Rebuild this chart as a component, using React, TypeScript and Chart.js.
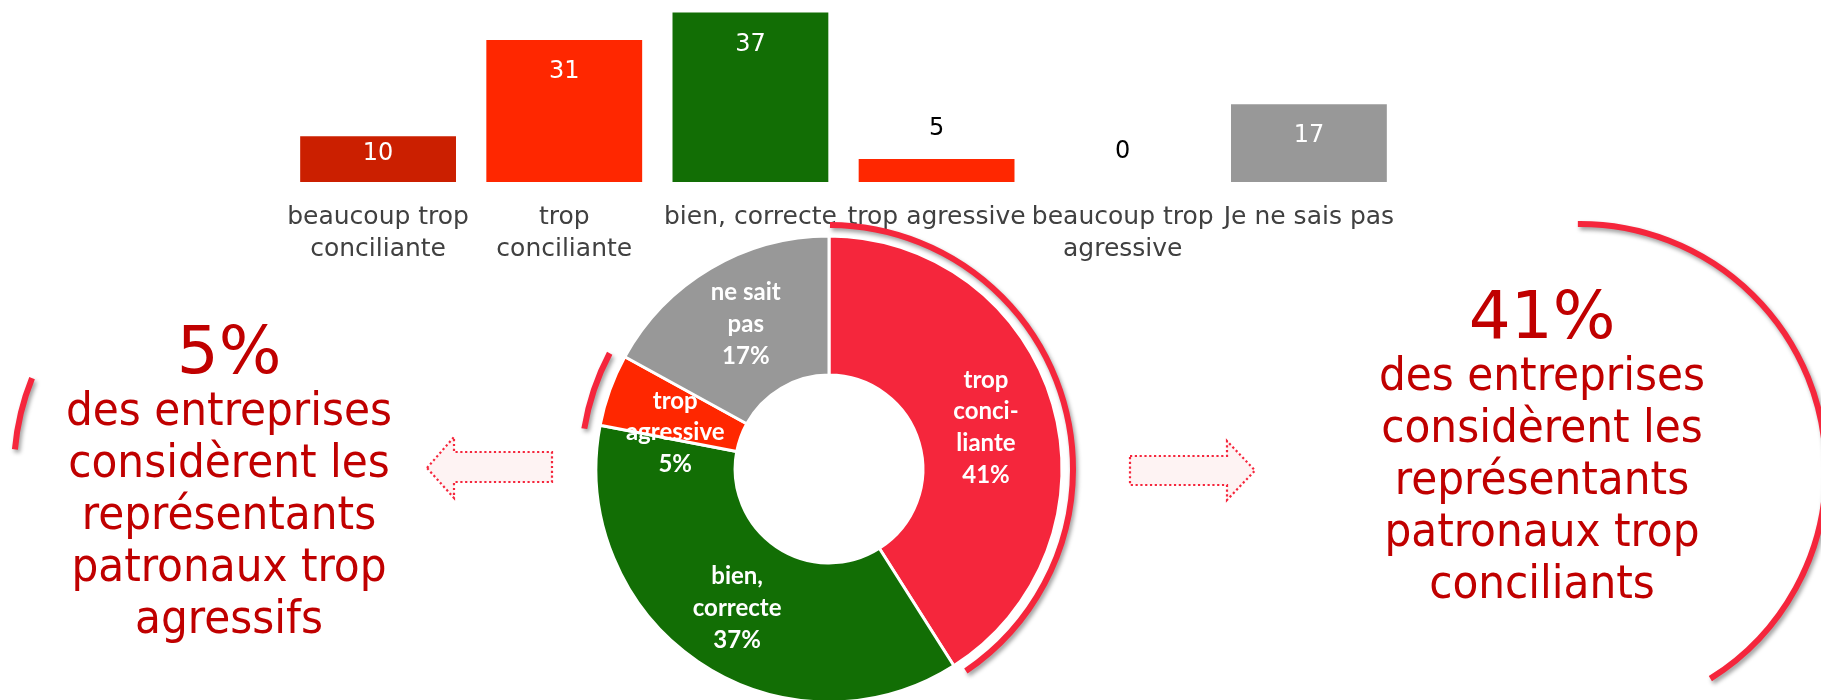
import React, { useEffect, useRef } from "react";
import { Chart, registerables } from "chart.js";

Chart.register(...registerables);

// ---------- data ----------
const barCategories: (string | string[])[] = [
  ["beaucoup trop", "conciliante"],
  ["trop", "conciliante"],
  "bien, correcte",
  "trop agressive",
  ["beaucoup trop", "agressive"],
  "Je ne sais pas",
];
const barValues = [10, 31, 37, 5, 0, 17];
const barColors = ["#CB1F00", "#FF2700", "#126E05", "#FF2700", "#FF2700", "#989898"];

const donutLabels = [
  ["trop", "conci-", "liante"],
  ["bien,", "correcte"],
  ["trop", "agressive"],
  ["ne sait", "pas"],
];
const donutValues = [41, 37, 5, 17];
const donutColors = ["#F5263C", "#126E05", "#FF2700", "#989898"];

const leftNoteLines = ["des entreprises", "considèrent les", "représentants", "patronaux trop", "agressifs"];
const rightNoteLines = ["des entreprises", "considèrent les", "représentants", "patronaux trop", "conciliants"];

// ---------- styling ----------
const NOTE_RED = "#C00000";
const ARC_RED = "#F5263C";
const COND_FONT = '"DejaVu Sans Condensed", "DejaVu Sans", sans-serif';
const BIG_FONT = '"DejaVu Sans", sans-serif';
const LABEL_NUDGE_Y = [4, 4, 19, -4]; // vertical fine-tuning of slice labels (px)

const deg = (d: number) => ((d - 90) * Math.PI) / 180;

const barValuePlugin = {
  id: "barValues",
  afterDatasetsDraw(chart: any) {
    const ctx = chart.ctx;
    const meta = chart.getDatasetMeta(0);
    const data = chart.data.datasets[0].data as number[];
    ctx.save();
    ctx.font = '24px "DejaVu Sans", sans-serif';
    ctx.textAlign = "center";
    ctx.textBaseline = "middle";
    meta.data.forEach((bar: any, i: number) => {
      const { x, y, base } = bar.getProps(["x", "y", "base"], true);
      const h = base - y;
      let ly: number;
      if (h >= 35) {
        ly = Math.min(y + 32, base - 28);
        ctx.fillStyle = "#FFFFFF";
      } else {
        ly = y - 30;
        ctx.fillStyle = "#000000";
      }
      ctx.fillText(String(data[i]), x, ly);
    });
    ctx.restore();
  },
};

function strokeArc(ctx: CanvasRenderingContext2D, cx: number, cy: number, r: number, a0: number, a1: number) {
  ctx.save();
  ctx.shadowColor = "rgba(0,0,0,0.38)";
  ctx.shadowBlur = 4;
  ctx.shadowOffsetX = 2;
  ctx.shadowOffsetY = 3;
  ctx.strokeStyle = ARC_RED;
  ctx.lineWidth = 6;
  ctx.lineCap = "butt";
  ctx.beginPath();
  ctx.arc(cx, cy, r, a0, a1);
  ctx.stroke();
  ctx.restore();
}

function drawArrow(ctx: CanvasRenderingContext2D, pts: number[][]) {
  ctx.save();
  ctx.beginPath();
  pts.forEach(([x, y], i) => (i ? ctx.lineTo(x, y) : ctx.moveTo(x, y)));
  ctx.closePath();
  ctx.fillStyle = "#FEF3F3";
  ctx.fill();
  ctx.setLineDash([2.2, 2.6]);
  ctx.lineWidth = 2.2;
  ctx.strokeStyle = ARC_RED;
  ctx.stroke();
  ctx.restore();
}

function drawNote(ctx: CanvasRenderingContext2D, cx: number, bigBaseline: number, big: string, lines: string[]) {
  ctx.save();
  ctx.fillStyle = NOTE_RED;
  ctx.textAlign = "center";
  ctx.textBaseline = "alphabetic";
  ctx.font = `66px ${BIG_FONT}`;
  ctx.fillText(big, cx, bigBaseline);
  ctx.font = `47px ${COND_FONT}`;
  lines.forEach((l, i) => ctx.fillText(l, cx, bigBaseline + 52 * (i + 1)));
  ctx.restore();
}

const donutLabelPlugin = {
  id: "donutLabels",
  afterDatasetsDraw(chart: any) {
    const ctx = chart.ctx;
    const meta = chart.getDatasetMeta(0);
    const data = chart.data.datasets[0].data as number[];
    ctx.save();
    ctx.font = 'bold 24px Lato, "Open Sans", sans-serif';
    ctx.fillStyle = "#FFFFFF";
    ctx.textAlign = "center";
    ctx.textBaseline = "middle";
    const lh = 31.7;
    meta.data.forEach((arc: any, i: number) => {
      const { x, y, startAngle, endAngle, innerRadius, outerRadius } = arc.getProps(
        ["x", "y", "startAngle", "endAngle", "innerRadius", "outerRadius"],
        true
      );
      const mid = (startAngle + endAngle) / 2;
      const r = (innerRadius + outerRadius) / 2;
      const px = x + Math.cos(mid) * r;
      const py = y + Math.sin(mid) * r + (LABEL_NUDGE_Y[i] || 0);
      const lines = [...donutLabels[i], `${data[i]}%`];
      const y0 = py - ((lines.length - 1) / 2) * lh;
      lines.forEach((l, k) => ctx.fillText(l, px, y0 + k * lh));
    });
    ctx.restore();
  },
  afterDraw(chart: any) {
    const ctx = chart.ctx as CanvasRenderingContext2D;
    const meta = chart.getDatasetMeta(0);
    // highlight arcs around the "trop conciliante" and "trop agressive" slices
    const a0 = meta.data[0].getProps(["x", "y", "startAngle", "endAngle", "outerRadius"], true);
    strokeArc(ctx, a0.x, a0.y, a0.outerRadius + 11, a0.startAngle + 0.004, a0.endAngle - 0.03);
    const a2 = meta.data[2].getProps(["x", "y", "startAngle", "endAngle", "outerRadius"], true);
    strokeArc(ctx, a2.x, a2.y, a2.outerRadius + 15, a2.startAngle - 0.025, a2.endAngle - 0.017);

    // decorative arcs around the side notes
    strokeArc(ctx, 262, 471, 248, deg(275), deg(292));
    strokeArc(ctx, 1580, 470, 246, deg(-0.5), deg(148));

    // arrows
    drawArrow(ctx, [
      [427, 468], [454, 437], [454, 452], [552, 452], [552, 482], [454, 482], [454, 498],
    ]);
    drawArrow(ctx, [
      [1130, 456], [1227, 456], [1227, 441], [1255, 470.5], [1227, 500], [1227, 485], [1130, 485],
    ]);

    // side notes
    drawNote(ctx, 229, 373, `${donutValues[2]}%`, leftNoteLines);
    drawNote(ctx, 1542, 338, `${donutValues[0]}%`, rightNoteLines);
  },
};

export default function App() {
  const barRef = useRef<HTMLCanvasElement>(null);
  const donutRef = useRef<HTMLCanvasElement>(null);

  useEffect(() => {
    const bar = new Chart(barRef.current as HTMLCanvasElement, {
      type: "bar",
      data: {
        labels: barCategories as any,
        datasets: [
          {
            data: barValues,
            backgroundColor: barColors,
            borderWidth: 0,
            categoryPercentage: 1,
            barPercentage: 0.837,
          },
        ],
      },
      options: {
        responsive: false,
        animation: false,
        layout: { padding: { left: 285, right: 419, top: 8, bottom: 0 } },
        plugins: { legend: { display: false }, tooltip: { enabled: false } },
        scales: {
          x: {
            grid: { display: false, drawTicks: false },
            border: { display: false },
            ticks: {
              color: "#404040",
              font: { family: '"DejaVu Sans", sans-serif', size: 25, lineHeight: 1.27 },
              padding: 20,
              maxRotation: 0,
              minRotation: 0,
              autoSkip: false,
            },
            afterFit: (s: any) => {
              s.height = 88;
            },
          },
          y: { display: false, min: 0, max: 38 },
        },
      },
      plugins: [barValuePlugin],
    } as any);

    const donut = new Chart(donutRef.current as HTMLCanvasElement, {
      type: "doughnut",
      data: {
        labels: donutLabels.map((l) => l.join(" ")),
        datasets: [
          {
            data: donutValues,
            backgroundColor: donutColors,
            borderColor: "#FFFFFF",
            borderWidth: 3,
          },
        ],
      },
      options: {
        responsive: false,
        animation: false,
        radius: 233,
        cutout: "40.3%",
        layout: { padding: { left: 598, right: 761, top: 238, bottom: 0 } },
        plugins: { legend: { display: false }, tooltip: { enabled: false } },
      },
      plugins: [donutLabelPlugin],
    } as any);

    return () => {
      bar.destroy();
      donut.destroy();
    };
  }, []);

  return (
    <div
      style={{
        position: "absolute",
        left: 0,
        top: 0,
        width: 1821,
        height: 700,
        overflow: "hidden",
        background: "#FFFFFF",
      }}
    >
      <canvas
        ref={barRef}
        width={1821}
        height={270}
        style={{ position: "absolute", left: 0, top: 0, display: "block" }}
      />
      <canvas
        ref={donutRef}
        width={1821}
        height={700}
        style={{ position: "absolute", left: 0, top: 0, display: "block", pointerEvents: "none" }}
      />
    </div>
  );
}
